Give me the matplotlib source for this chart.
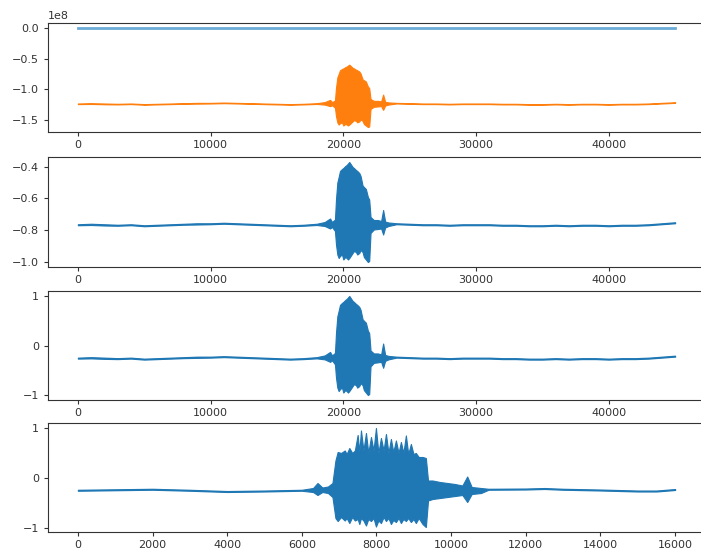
import numpy as np
import matplotlib
matplotlib.use("Agg")
import matplotlib.pyplot as plt

clip_x = [0, 1000, 2000, 3000, 4000, 5000, 6000, 7000, 8000, 9000, 10000, 11000,
          12000, 13000, 14000, 15000, 16000, 17000, 18000, 18600, 19000, 19150,
          19370, 19450, 19550, 19650, 19750, 19900, 20000, 20150, 20250, 20350,
          20450, 20550, 20700, 20800, 20950, 21050, 21200, 21300, 21450, 21550,
          21700, 21850, 21950, 22050, 22300, 22600, 22850, 23000, 23150, 23400,
          24000, 25000, 26000, 27000, 28000, 29000, 30000, 31000, 32000, 33000,
          34000, 35000, 36000, 37000, 38000, 39000, 40000, 41000, 42000, 43000,
          44000, 45000]
clip_hi = [-0.245, -0.235, -0.245, -0.255, -0.245, -0.265, -0.255, -0.245, -0.235, -0.225, -0.225, -0.215,
           -0.225, -0.235, -0.245, -0.255, -0.265, -0.255, -0.235, -0.20, -0.13, -0.20,
           -0.15, 0.26, 0.59, 0.70, 0.82, 0.86, 0.88, 0.92, 0.94, 0.97,
           1.00, 0.96, 0.90, 0.88, 0.84, 0.82, 0.78, 0.72, 0.53, 0.50,
           0.46, 0.30, 0.25, -0.10, -0.16, -0.16, -0.18, 0.04, -0.19, -0.21,
           -0.225, -0.235, -0.245, -0.245, -0.255, -0.245, -0.245, -0.245, -0.255, -0.255,
           -0.265, -0.265, -0.255, -0.265, -0.255, -0.255, -0.265, -0.255, -0.255, -0.245,
           -0.225, -0.205]
clip_lo = [-0.265, -0.26, -0.27, -0.275, -0.265, -0.285, -0.275, -0.265, -0.255, -0.25, -0.245, -0.235,
           -0.245, -0.255, -0.265, -0.275, -0.285, -0.275, -0.26, -0.28, -0.33, -0.30,
           -0.38, -0.65, -0.85, -0.92, -0.88, -0.85, -0.95, -0.90, -0.92, -0.95,
           -0.92, -0.88, -0.82, -0.78, -0.80, -0.85, -0.82, -0.76, -0.80, -0.90,
           -0.95, -1.00, -0.98, -0.42, -0.35, -0.34, -0.33, -0.45, -0.31, -0.28,
           -0.245, -0.255, -0.265, -0.265, -0.275, -0.265, -0.265, -0.265, -0.275, -0.275,
           -0.285, -0.285, -0.275, -0.285, -0.275, -0.275, -0.285, -0.275, -0.275, -0.265,
           -0.245, -0.225]

# raw amplitude range of the orange trace and its peak magnitude
raw_min = -1.62e8
raw_max = -0.60e8
raw_peak = 1.62e8

# envelope of the 16000-sample excerpt in the bottom panel
cut_x = [0, 1000, 2000, 3000, 4000, 5000, 6000, 6300, 6420, 6550, 6700, 6820, 6900, 6960,
         7050, 7150, 7200, 7272, 7350, 7420, 7495, 7540, 7584, 7650, 7718, 7780, 7852,
         7920, 7985, 8050, 8119, 8190, 8253, 8320, 8386, 8450, 8520, 8590, 8654, 8720,
         8787, 8850, 8921, 8990, 9054, 9130, 9233, 9322, 9380, 9500, 9700, 9900, 10100,
         10300, 10430, 10550, 10800, 11000, 12000, 12500, 13000, 14000, 15000, 15500, 16000]
cut_hi = [-0.235, -0.225, -0.215, -0.235, -0.26, -0.25, -0.235, -0.20, -0.10, -0.19, -0.17, -0.10, 0.35, 0.52,
          0.50, 0.55, 0.48, 0.60, 0.50, 0.55, 0.86, 0.52, 0.95, 0.55, 0.90, 0.50, 0.82,
          0.55, 1.00, 0.50, 0.80, 0.55, 0.88, 0.50, 0.78, 0.52, 0.75, 0.50, 0.72, 0.50,
          0.85, 0.48, 0.68, 0.48, 0.50, 0.42, 0.42, 0.40, -0.05, -0.05, -0.08, -0.10, -0.12,
          -0.15, 0.03, -0.18, -0.20, -0.215, -0.21, -0.20, -0.215, -0.23, -0.25, -0.25, -0.22]
cut_lo = [-0.255, -0.245, -0.235, -0.255, -0.28, -0.27, -0.255, -0.28, -0.34, -0.28, -0.30, -0.38, -0.80, -0.86,
          -0.78, -0.85, -0.80, -0.90, -0.78, -0.85, -0.82, -0.92, -0.80, -0.85, -0.95, -0.82, -0.86,
          -0.80, -0.97, -0.85, -0.90, -0.78, -0.86, -0.80, -0.92, -0.84, -0.88, -0.80, -0.90, -0.82,
          -0.86, -0.80, -0.88, -0.82, -0.90, -0.80, -0.92, -0.98, -0.45, -0.42, -0.40, -0.38, -0.36,
          -0.34, -0.48, -0.32, -0.30, -0.235, -0.23, -0.22, -0.235, -0.25, -0.27, -0.27, -0.24]

# orange trace = normalised clip mapped back to the raw range; panel 2 = raw / peak
norm_hi = np.array(clip_hi)
norm_lo = np.array(clip_lo)
raw_hi = (norm_hi + 1) / 2 * (raw_max - raw_min) + raw_min
raw_lo = (norm_lo + 1) / 2 * (raw_max - raw_min) + raw_min
scaled_hi = raw_hi / raw_peak
scaled_lo = raw_lo / raw_peak

plt.rcParams['font.size'] = 8
plt.rcParams['xtick.major.size'] = 3
plt.rcParams['ytick.major.size'] = 3
plt.rcParams['xtick.major.pad'] = 2.5
plt.rcParams['axes.edgecolor'] = '#333333'
plt.rcParams['xtick.color'] = '#333333'
plt.rcParams['ytick.color'] = '#333333'

fig = plt.figure(figsize=(7.01, 5.5), dpi=100)
left, width = 48 / 701, 657 / 701
ax1 = fig.add_axes([left, 1 - 132 / 550, width, 109 / 550])
ax2 = fig.add_axes([left, 1 - 267 / 550, width, 110 / 550])
ax3 = fig.add_axes([left, 1 - 400 / 550, width, 109 / 550])
ax4 = fig.add_axes([left, 1 - 532 / 550, width, 109 / 550])

blue = '#1f77b4'
orange = '#ff7f0e'

def band(ax, x, lo, hi, color, lw=0.8):
    ax.fill_between(x, lo, hi, color=color, lw=lw, edgecolor=color)

ax1.plot(clip_x, norm_hi, color='#6aaad6', lw=2)
band(ax1, clip_x, raw_lo, raw_hi, orange)
band(ax2, clip_x, scaled_lo, scaled_hi, blue)
band(ax3, clip_x, norm_lo, norm_hi, blue)
band(ax4, cut_x, cut_lo, cut_hi, blue)

ax3.set_yticks([-1, 0, 1])
ax4.set_yticks([-1, 0, 1])

fig.savefig('out.png', dpi=100)
